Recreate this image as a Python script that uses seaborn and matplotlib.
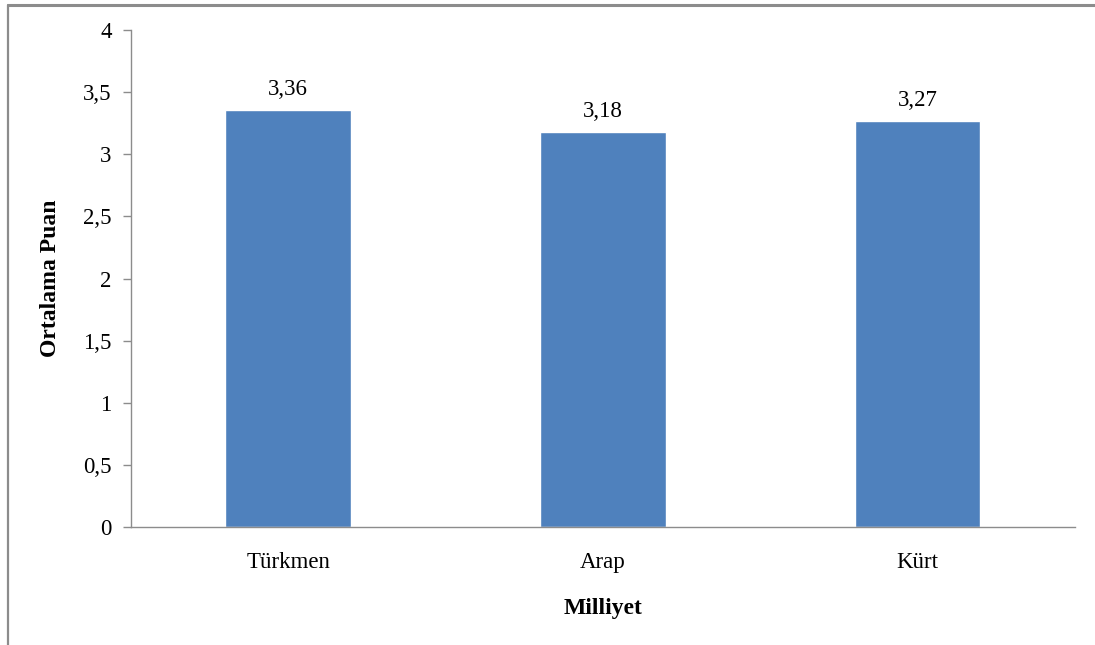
import matplotlib
matplotlib.use("Agg")
import matplotlib.pyplot as plt
from matplotlib.lines import Line2D
import seaborn as sns
import pandas as pd

categories = ["Türkmen", "Arap", "Kürt"]
values = [3.36, 3.18, 3.27]
yticks = [0, 0.5, 1, 1.5, 2, 2.5, 3, 3.5, 4]

sns.set_theme(style="white")
plt.rcParams["font.family"] = ["Liberation Serif", "DejaVu Serif"]
plt.rcParams["text.color"] = "black"
plt.rcParams["axes.labelcolor"] = "black"
plt.rcParams["xtick.color"] = "black"
plt.rcParams["ytick.color"] = "black"

FS = 16.5

df = pd.DataFrame({"Milliyet": categories, "Puan": values})

fig = plt.figure(figsize=(10.95, 6.45), dpi=100)
ax = fig.add_axes([0.1196, 0.1829, 0.862, 0.7706])

sns.barplot(data=df, x="Milliyet", y="Puan", color="#4F81BD", saturation=1,
            width=0.4, ax=ax, order=categories)

ax.set_ylim(0, 4)
ax.set_xlim(-0.5, 2.5)
ax.set_yticks(yticks)
ax.set_yticklabels([f"{t:g}".replace(".", ",") for t in yticks], fontsize=FS)
ax.tick_params(axis="x", labelsize=FS, length=0, pad=18, labelcolor="black")
ax.tick_params(axis="y", length=6, width=1, color="#8c8c8c", direction="out",
               left=True, pad=8, labelcolor="black")

for side in ["top", "right"]:
    ax.spines[side].set_visible(False)
for side in ["left", "bottom"]:
    ax.spines[side].set_color("#8c8c8c")
    ax.spines[side].set_linewidth(1)

for cont in ax.containers:
    ax.bar_label(cont, labels=[f"{v:.2f}".replace(".", ",") for v in values],
                 padding=7, fontsize=FS, color="black")

ax.set_xlabel("Milliyet", fontsize=17, fontweight="bold", labelpad=18, color="black")
ax.set_ylabel("Ortalama Puan", fontsize=17, fontweight="bold", labelpad=16, color="black")

# outer chart frame (top and left edges)
fig.add_artist(Line2D([0.0073, 1.0], [0.993, 0.993], transform=fig.transFigure,
                      color="#8c8c8c", linewidth=2.2))
fig.add_artist(Line2D([0.0073, 0.0073], [0.0, 0.993], transform=fig.transFigure,
                      color="#8c8c8c", linewidth=1.6))

fig.savefig("out.png", dpi=100)
